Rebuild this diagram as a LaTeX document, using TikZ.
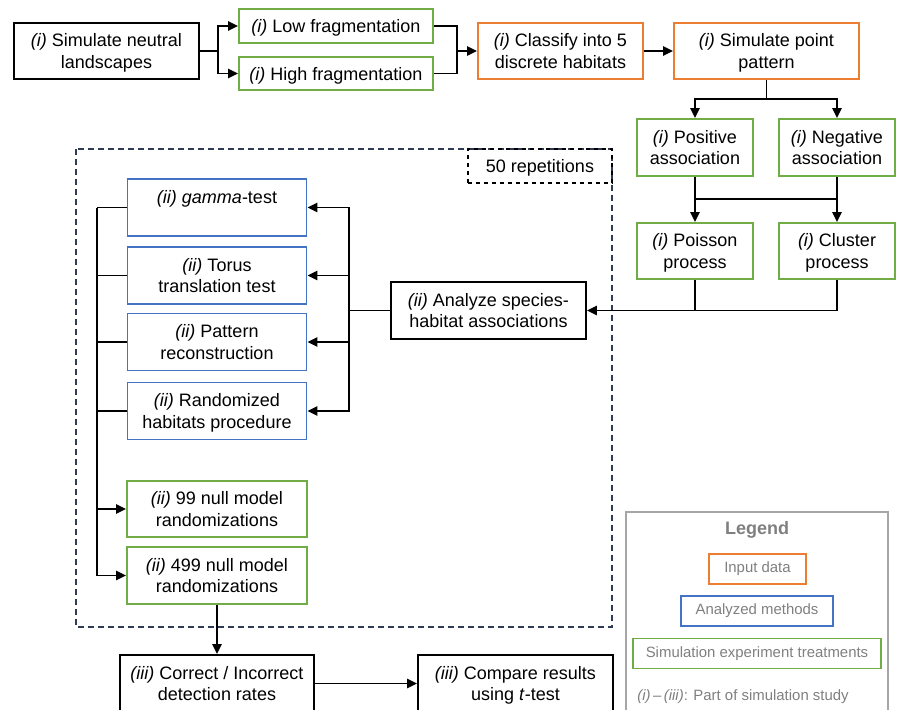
\documentclass[tikz,border=0pt]{standalone}
\usepackage{fontspec}
\setmainfont{Liberation Sans}
\usetikzlibrary{arrows.meta}
\definecolor{inorange}{HTML}{ED7D31}
\definecolor{methblue}{HTML}{4472C4}
\definecolor{treatgreen}{HTML}{70AD47}
\definecolor{framenavy}{HTML}{2F3B55}
\definecolor{leggray}{HTML}{7F7F7F}
\definecolor{legline}{HTML}{A6A6A6}

\begin{document}
\begin{tikzpicture}[x=0.75pt,y=-0.75pt,line width=1.35pt,
        >={Triangle[length=7.5pt,width=7pt]},
        box/.style={rectangle,draw,line width=1.4pt,inner sep=0pt,align=center,
            text depth=0pt,font=\fontsize{13.5}{16.3}\selectfont},
        wide/.style={minimum width=134.25pt,minimum height=42.75pt},
        legitem/.style={rectangle,draw,line width=1.1pt,inner sep=0pt,
            text=leggray,font=\fontsize{11.2}{13}\selectfont,minimum height=22.5pt}]
    \useasboundingbox (0,0) rectangle (897,710);
    % frames
    \draw[framenavy,line width=1.1pt,dash pattern=on 4.5pt off 3pt] (76,149) rectangle (612,627);
    \draw[legline,line width=0.8pt] (626,512) rectangle (888,730);
    \begin{scope}[every node/.style={box,draw=black}]
        \node[minimum width=138.75pt,minimum height=42pt] (land) at (106.5,51) {\textit{(i)} Simulate neutral\\landscapes};
        \node[minimum width=146.25pt,minimum height=42.75pt] (analyze) at (488.5,310.5) {\textit{(ii)} Analyze species-\\habitat associations};
        \node[minimum width=145.5pt,minimum height=42.75pt] (correct) at (217,683.5) {\textit{(iii)} Correct / Incorrect\\detection rates};
        \node[minimum width=146.25pt,minimum height=42.75pt] (compare) at (515.5,683.5) {\textit{(iii)} Compare results\\using \textit{t}-test};
        \node[dashed,line width=1.1pt,minimum width=108pt,minimum height=25.5pt] (reps) at (540,166) {50 repetitions};
    \end{scope}
    \begin{scope}[every node/.style={box,draw=inorange}]
        \node[minimum width=123.75pt,minimum height=42pt] (classify) at (560.5,51) {\textit{(i)} Classify into 5\\discrete habitats};
        \node[minimum width=138.75pt,minimum height=42pt] (point) at (766.5,51) {\textit{(i)} Simulate point\\pattern};
    \end{scope}
    \begin{scope}[every node/.style={box,draw=treatgreen}]
        \node[minimum width=145.5pt,minimum height=25pt] (low) at (336,26) {\textit{(i)} Low fragmentation};
        \node[minimum width=145.5pt,minimum height=25pt] (high) at (336,73.5) {\textit{(i)} High fragmentation};
        \node[minimum width=87pt,minimum height=42.75pt] (pos) at (695,147.5) {\textit{(i)} Positive\\association};
        \node[minimum width=87pt,minimum height=42.75pt] (neg) at (837,147.5) {\textit{(i)} Negative\\association};
        \node[minimum width=87pt,minimum height=42pt] (poisson) at (695,251) {\textit{(i)} Poisson\\process};
        \node[minimum width=87pt,minimum height=42pt] (cluster) at (837,251) {\textit{(i)} Cluster\\process};
        \node[wide,minimum width=135pt,minimum height=42pt] (nm99) at (217,509) {\textit{(ii)} 99 null model\\randomizations};
        \node[wide,minimum width=135pt] (nm499) at (217,575.5) {\textit{(ii)} 499 null model\\randomizations};
    \end{scope}
    \begin{scope}[every node/.style={box,draw=methblue,wide}]
        \node (gamma) at (217,207.5) {\textit{(ii) gamma}-test\\\strut};
        \node (torus) at (217,275.5) {\textit{(ii)} Torus\\translation test};
        \node (pattern) at (217,342) {\textit{(ii)} Pattern\\reconstruction};
        \node (random) at (217,411) {\textit{(ii)} Randomized\\habitats procedure};
    \end{scope}
    % legend
    \node[text=leggray,font=\fontsize{13.5}{16}\selectfont\bfseries] (legend) at (757,530) {Legend};
    \node[legitem,draw=inorange,minimum width=72.75pt] (leginput) at (757.5,569) {Input data};
    \node[legitem,draw=methblue,minimum width=114pt] (legmeth) at (757,611) {Analyzed methods};
    \node[legitem,draw=treatgreen,minimum width=186pt] (legtreat) at (757,653.5) {Simulation experiment treatments};
    \node[text=leggray,font=\fontsize{11.2}{13}\selectfont] (legnote) at (743,697) {\textit{(i)}\,--\,\textit{(iii)}: Part of simulation study};
    % connectors
    \coordinate (j1) at (218,51);
    \coordinate (j2) at (457,51);
    \coordinate (j3) at (766.5,99);
    \coordinate (j4) at (766,199);
    \coordinate (j6) at (349,310.5);
    \coordinate (bus) at (97,0);
    \draw (land) -- (j1);
    \draw[->] (j1) |- (low);
    \draw[->] (j1) |- (high);
    \draw (low) -| (j2);
    \draw (high) -| (j2);
    \draw[->] (j2) -- (classify);
    \draw[->] (classify) -- (point);
    \draw (point) -- (j3);
    \draw[->] (j3) -| (pos);
    \draw[->] (j3) -| (neg);
    \draw (pos) -- (pos |- j4) -- (neg |- j4) -- (neg);
    \draw[->] (pos |- j4) -- (poisson);
    \draw[->] (neg |- j4) -- (cluster);
    \draw (poisson) -- (poisson |- analyze);
    \draw[->] (cluster) |- (analyze);
    \draw (analyze) -- (j6);
    \draw[->] (j6) |- (gamma);
    \draw[->] (j6) |- (torus);
    \draw[->] (j6) |- (pattern);
    \draw[->] (j6) |- (random);
    \draw (gamma) -- (gamma -| bus);
    \draw (torus) -- (torus -| bus);
    \draw (pattern) -- (pattern -| bus);
    \draw (random) -- (random -| bus);
    \draw[->] (gamma -| bus) |- (nm499);
    \draw[->] (nm99 -| bus) -- (nm99);
    \draw[->] (nm499) -- (correct);
    \draw[->] (correct) -- (compare);
\end{tikzpicture}
\end{document}
